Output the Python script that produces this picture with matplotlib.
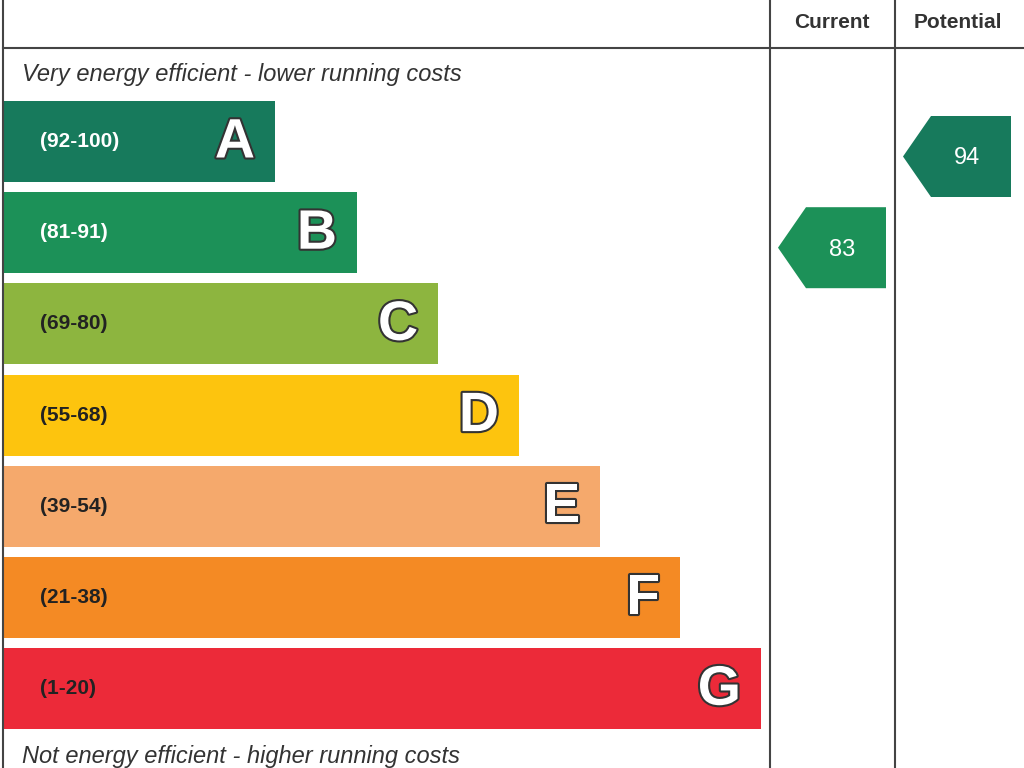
import matplotlib
matplotlib.use("Agg")
import matplotlib.pyplot as plt
from matplotlib.patches import Polygon, Rectangle
import matplotlib.patheffects as pe

bands = ["A", "B", "C", "D", "E", "F", "G"]
ranges = ["(92-100)", "(81-91)", "(69-80)", "(55-68)", "(39-54)", "(21-38)", "(1-20)"]
colors = ["#177a5c", "#1c9158", "#8db53f", "#fdc40e", "#f5a96c", "#f48a24", "#ec2a39"]
bar_ends = [275, 357, 438, 519, 600, 680, 761]
current, potential = 83, 94
current_band, potential_band = "B", "A"

plt.rcParams["font.family"] = ["Liberation Sans", "DejaVu Sans"]
fig = plt.figure(figsize=(10.24, 7.68), dpi=100)
ax = fig.add_axes([0, 0, 1, 1])
ax.set_xlim(0, 1024); ax.set_ylim(768, 0); ax.axis("off")

top0, pitch, h = 101, 91.2, 81
for i, (b, r, c, e) in enumerate(zip(bands, ranges, colors, bar_ends)):
    y = top0 + i * pitch
    ax.add_patch(Rectangle((3, y), e - 3, h, color=c, lw=0))
    tc = "white" if i < 2 else "#222222"
    ax.text(40, y + h / 2, r, color=tc, fontsize=15, fontweight="bold", va="center")
    ax.text(e - 20, y + h / 2 + 2, b, color="white", fontsize=40, fontweight="bold",
            ha="right", va="center",
            path_effects=[pe.withStroke(linewidth=3, foreground="#333333")])

ax.text(22, 75, "Very energy efficient - lower running costs", fontsize=17,
        style="italic", color="#333333", va="center")
ax.text(22, 756, "Not energy efficient - higher running costs", fontsize=17,
        style="italic", color="#333333", va="center")

for x in (770, 895):
    ax.plot([x, x], [0, 768], color="#444444", lw=1.5)
ax.plot([3, 1024], [48, 48], color="#444444", lw=1.5)
ax.plot([3, 3], [0, 768], color="#444444", lw=1.5)
ax.text(832, 23, "Current", fontsize=15, fontweight="bold", ha="center", va="center", color="#333333")
ax.text(958, 23, "Potential", fontsize=15, fontweight="bold", ha="center", va="center", color="#333333")

def arrow(x0, x1, band, val):
    i = bands.index(band)
    yc = top0 + i * pitch + h / 2 + 15
    hh = h / 2
    pts = [(x0, yc), (x0 + 28, yc - hh), (x1, yc - hh), (x1, yc + hh), (x0 + 28, yc + hh)]
    ax.add_patch(Polygon(pts, closed=True, color=colors[i], lw=0))
    ax.text((x0 + x1) / 2 + 10, yc + 2, str(val), color="white", fontsize=17,
            ha="center", va="center")

arrow(778, 886, current_band, current)
arrow(903, 1011, potential_band, potential)

fig.savefig("out.png", dpi=100)
